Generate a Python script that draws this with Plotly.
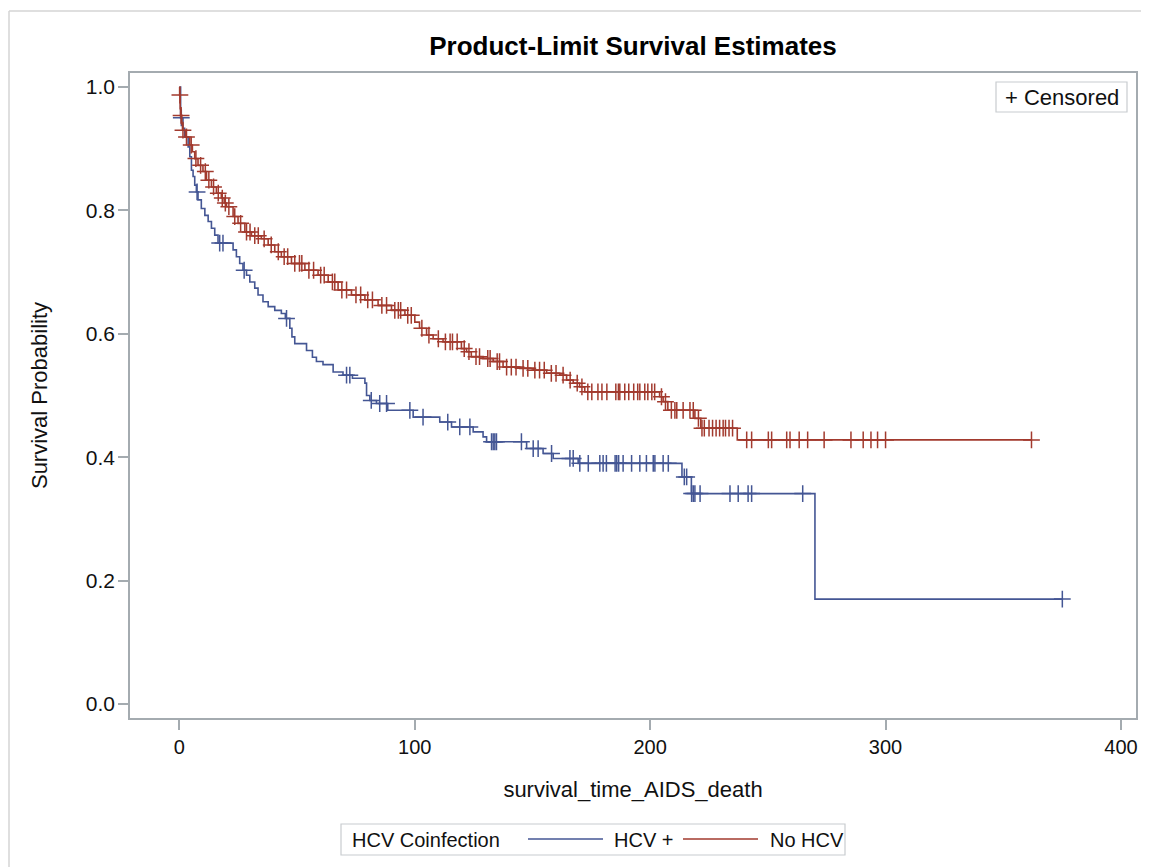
import plotly.graph_objects as go

# ---------------- data ----------------
groups = ["HCV +", "No HCV"]

# HCV + : event times and survival after each step
hcv_times = [0.5, 1.5, 2.2, 3.7, 4.4, 5.1, 5.8, 6.5, 7.2, 7.9, 9.3, 10.8, 12.2, 13.6,
             15.0, 16.4, 22.8, 24.2, 25.6, 27.0, 28.5, 29.9, 32.0, 33.4, 35.5, 37.7,
             40.5, 43.3, 45.0, 46.9, 47.8, 49.0, 54.0, 56.5, 58.2, 61.0, 65.3, 69.5,
             73.5, 78.8, 79.5, 80.9, 83.7, 88.5, 99.3, 110.6, 115.6, 124.8, 129.0,
             130.5, 147.5, 154.5, 158.8, 169.4, 213.5, 217.5, 270.0]
hcv_surv = [0.950, 0.933, 0.919, 0.903, 0.887, 0.865, 0.855, 0.841, 0.830, 0.817,
            0.803, 0.792, 0.782, 0.771, 0.760, 0.747, 0.736, 0.725, 0.714, 0.703,
            0.695, 0.684, 0.674, 0.663, 0.652, 0.644, 0.638, 0.633, 0.625, 0.609,
            0.595, 0.584, 0.573, 0.562, 0.555, 0.550, 0.538, 0.533, 0.528, 0.520,
            0.500, 0.492, 0.487, 0.476, 0.465, 0.457, 0.449, 0.441, 0.433, 0.425,
            0.414, 0.406, 0.398, 0.390, 0.368, 0.341, 0.170]
hcv_censored = [0.8, 7.5, 17.1, 18.5, 27.5, 45.5, 71.0, 72.4, 81.5, 85.1, 88.0, 97.9,
                103.5, 114.0, 119.1, 123.4, 132.6, 133.3, 134.0, 134.7, 145.3, 150.3,
                152.4, 158.1, 165.9, 167.3, 170.1, 173.7, 178.6, 180.0, 181.4, 185.1,
                185.8, 186.6, 188.5, 192.1, 195.6, 198.4, 201.3, 202.0, 205.5, 207.7,
                214.5, 215.5, 217.6, 218.3, 219.0, 221.2, 233.9, 237.4, 241.6, 243.1,
                264.8, 375.1]

# No HCV
nohcv_times = [0.1, 0.3, 0.5, 1.0, 1.3, 2.5, 4.4, 5.5, 6.5, 7.9, 10.0, 11.5, 13.6,
               15.7, 17.8, 19.0, 20.0, 22.8, 24.9, 27.8, 30.6, 34.8, 37.7, 40.5, 43.3,
               47.6, 53.3, 58.9, 63.2, 67.4, 73.1, 78.8, 84.4, 90.1, 95.8, 100.0,
               102.0, 105.0, 107.8, 112.0, 119.8, 122.0, 124.0, 129.0, 133.3, 137.5,
               144.6, 150.3, 156.0, 161.6, 164.5, 167.3, 170.0, 172.2, 204.0, 205.5,
               207.5, 219.0, 221.5, 237.0]
nohcv_surv = [0.987, 0.965, 0.954, 0.940, 0.930, 0.919, 0.906, 0.895, 0.884, 0.873,
              0.863, 0.849, 0.838, 0.828, 0.820, 0.812, 0.806, 0.790, 0.779, 0.765,
              0.759, 0.754, 0.744, 0.733, 0.725, 0.714, 0.703, 0.695, 0.684, 0.671,
              0.663, 0.655, 0.646, 0.638, 0.630, 0.619, 0.609, 0.598, 0.592, 0.587,
              0.576, 0.571, 0.563, 0.560, 0.555, 0.546, 0.544, 0.541, 0.536, 0.533,
              0.525, 0.520, 0.514, 0.506, 0.498, 0.490, 0.476, 0.463, 0.447, 0.428]
nohcv_censored = [0.2, 0.7, 1.5, 3.0, 5.0, 7.0, 9.0, 11.0, 12.5, 14.5, 16.5, 18.2,
                  19.5, 21.0, 23.5, 26.0, 28.5, 30.0, 32.0, 33.5, 36.0, 39.0, 42.0,
                  44.5, 46.0, 49.0, 51.0, 52.0, 55.0, 57.0, 60.0, 61.5, 65.0, 66.0,
                  69.0, 71.0, 75.0, 77.0, 80.0, 82.0, 86.0, 88.0, 91.5, 93.0, 94.0,
                  97.0, 98.5, 103.0, 106.0, 110.0, 113.0, 115.0, 116.0, 118.0, 121.0,
                  123.0, 126.0, 127.5, 131.0, 132.0, 135.0, 136.0, 139.0, 141.0, 143.0,
                  146.0, 148.0, 151.0, 153.0, 155.0, 158.0, 160.0, 163.0, 166.0, 169.0,
                  171.0, 173.5, 175.2, 177.8, 179.5, 181.6, 185.4, 186.5, 187.1, 189.2,
                  190.9, 193.0, 194.7, 195.6, 197.7, 199.0, 200.7, 201.9, 204.8, 206.5,
                  209.0, 210.5, 211.3, 214.0, 216.9, 218.3, 220.5, 222.0, 223.0, 225.0,
                  226.5, 228.0, 229.5, 231.0, 232.0, 233.5, 235.0, 241.0, 243.1, 250.2,
                  251.6, 258.0, 259.4, 263.3, 266.9, 273.9, 285.3, 290.5, 293.8, 296.6,
                  300.0, 362.0]

x_ticks = [0, 100, 200, 300, 400]
y_ticks = [0.0, 0.2, 0.4, 0.6, 0.8, 1.0]

# ---------------- styling ----------------
BLUE = "#445694"
RED = "#A23A2E"
FRAME = "#A4ABB0"
TEXT = "#111111"
FONT = "Liberation Sans, Arial, Helvetica, sans-serif"


def surv_at(times, surv, t):
    s = 1.0
    for ti, si in zip(times, surv):
        if ti <= t:
            s = si
        else:
            break
    return s


def step_points(times, surv, end_time):
    xs = [0.0] + list(times) + [end_time]
    ys = [1.0] + list(surv) + [surv[-1]]
    return xs, ys


fig = go.Figure()

series = [
    ("HCV +", hcv_times, hcv_surv, hcv_censored, BLUE),
    ("No HCV", nohcv_times, nohcv_surv, nohcv_censored, RED),
]

for name, tt, ss, cc, col in series:
    end_t = max(max(cc), max(tt))
    xs, ys = step_points(tt, ss, end_t)
    fig.add_trace(go.Scatter(
        x=xs, y=ys, mode="lines", line=dict(color=col, width=1.6, shape="hv"),
        name=name, showlegend=False, hoverinfo="x+y+name"))
    fig.add_trace(go.Scatter(
        x=cc, y=[surv_at(tt, ss, c) for c in cc], mode="markers",
        marker=dict(symbol="cross-thin", size=12, line=dict(color=col, width=1.5), color=col),
        name=name + " (censored)", showlegend=False))

# the page has an 8px body margin: the figure is sized/shifted to compensate
OFF = 8
W, H = 1149 - OFF, 867 - OFF
ML, MR, MT, MB = 130 - OFF, 13, 73 - OFF, 149
PW, PH = W - ML - MR, H - MT - MB


def px(page_x):
    return (page_x - OFF - ML) / PW


def py(page_y):
    return (H - MB - (page_y - OFF)) / PH


shapes = []
annotations = []

# bottom legend box
shapes.append(dict(type="rect", xref="paper", yref="paper",
                   x0=px(341), x1=px(845), y0=py(855), y1=py(824),
                   line=dict(color="#C8CCCF", width=1.2), fillcolor="white"))
annotations.append(dict(xref="paper", yref="paper", x=px(350), y=py(839.5),
                        xanchor="left", yanchor="middle", showarrow=False,
                        text="HCV Coinfection", font=dict(size=20, color=TEXT, family=FONT)))
legend_items = [(groups[0], BLUE, 528, 603, 612), (groups[1], RED, 683, 758, 768)]
for name, col, lx0, lx1, tx in legend_items:
    shapes.append(dict(type="line", xref="paper", yref="paper",
                       x0=px(lx0), x1=px(lx1), y0=py(839), y1=py(839),
                       line=dict(color=col, width=1.6)))
    annotations.append(dict(xref="paper", yref="paper", x=px(tx), y=py(839.5),
                            xanchor="left", yanchor="middle", showarrow=False,
                            text=name, font=dict(size=20, color=TEXT, family=FONT)))

# censored inset legend
shapes.append(dict(type="rect", xref="paper", yref="paper",
                   x0=px(996), x1=px(1127), y0=py(112), y1=py(82),
                   line=dict(color="#C8CCCF", width=1.2), fillcolor="white"))
annotations.append(dict(xref="paper", yref="paper", x=px(1061.5), y=py(97.5),
                        xanchor="center", yanchor="middle", showarrow=False,
                        text="+ Censored", font=dict(size=22, color=TEXT, family=FONT)))

# outer border lines (top & left)
shapes.append(dict(type="line", xref="paper", yref="paper",
                   x0=px(OFF + 1), x1=px(1160), y0=py(11), y1=py(11),
                   line=dict(color="#D4D4D4", width=1.5)))
shapes.append(dict(type="line", xref="paper", yref="paper",
                   x0=px(OFF + 1), x1=px(OFF + 1), y0=py(11), y1=py(880),
                   line=dict(color="#D4D4D4", width=1.5)))

fig.update_layout(
    width=W, height=H,
    margin=dict(l=ML, r=MR, t=MT, b=MB),
    paper_bgcolor="white", plot_bgcolor="white",
    font=dict(family=FONT, color=TEXT, size=20),
    title=dict(text="<b>Product-Limit Survival Estimates</b>", xref="paper", x=px(633),
               xanchor="center", y=1 - (46 - OFF) / H, yanchor="middle", yref="container",
               font=dict(size=26, color="#000000", family=FONT)),
    shapes=shapes, annotations=annotations,
    showlegend=False,
)

fig.update_xaxes(
    range=[-21.0, 406.4], tickvals=x_ticks, ticktext=[str(v) for v in x_ticks],
    showgrid=False, zeroline=False, showline=True, mirror=True,
    linecolor=FRAME, linewidth=1.5, ticks="outside", ticklen=10, tickwidth=1.5,
    tickcolor=FRAME, tickfont=dict(size=20, color=TEXT, family=FONT),
    title=dict(text="survival_time_AIDS_death", font=dict(size=22, color=TEXT, family=FONT),
               standoff=25),
)
fig.update_yaxes(
    range=[-0.0227, 1.0227], tickvals=y_ticks, ticktext=[f"{v:.1f}" for v in y_ticks],
    showgrid=False, zeroline=False, showline=True, mirror=True,
    linecolor=FRAME, linewidth=1.5, ticks="outside", ticklen=10, tickwidth=1.5,
    tickcolor=FRAME, tickfont=dict(size=21, color=TEXT, family=FONT),
    ticklabelstandoff=-1,
    title=dict(text="Survival Probability", font=dict(size=22, color=TEXT, family=FONT),
               standoff=32),
)

fig.write_html("out.html")
